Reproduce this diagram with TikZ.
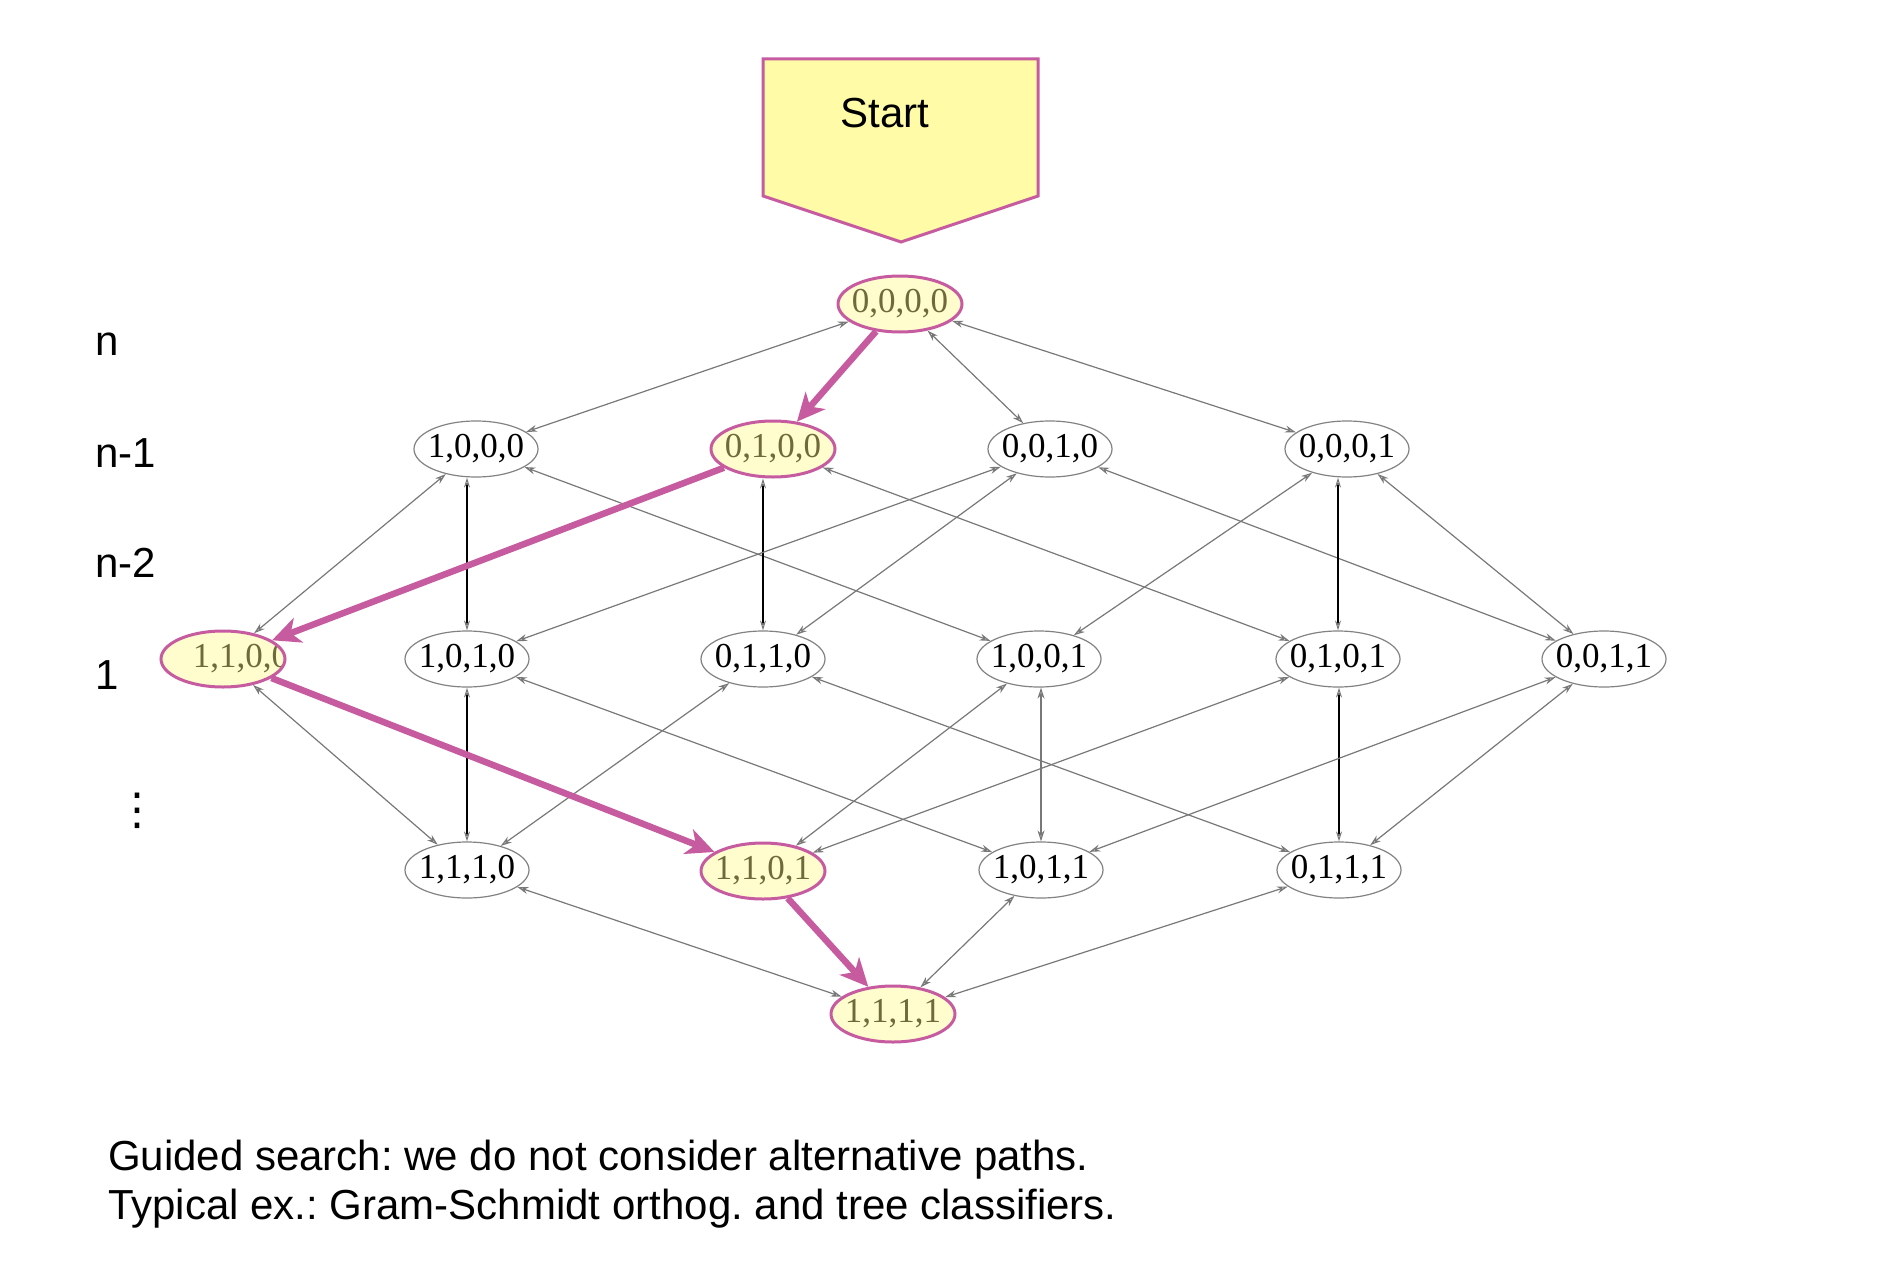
\documentclass[tikz,border=0pt]{standalone}
\usepackage{fontspec}
\setmainfont{Liberation Sans}
\newfontfamily\serifnode{Liberation Serif}
\newfontfamily\dejavu{DejaVu Sans}
\usetikzlibrary{arrows.meta,shapes.geometric}
\definecolor{mag}{RGB}{198,91,160}
\definecolor{boxyellow}{RGB}{255,251,166}
\definecolor{hlfill}{RGB}{255,252,206}
\definecolor{olivetext}{RGB}{110,106,60}
\definecolor{edgegray}{RGB}{120,120,120}
\definecolor{ellgray}{RGB}{130,130,130}
\frenchspacing
\tikzset{
  st/.style={ellipse, draw=ellgray, line width=1.2pt, minimum width=124pt, minimum height=56pt,
    inner xsep=-5pt, inner ysep=0pt, font=\serifnode\fontsize{35}{38}\selectfont, text=black},
  hl/.style={st, draw=mag, line width=3pt, fill=hlfill, text=olivetext},
  lbl/.style={anchor=base west, font=\fontsize{42}{50}\selectfont, inner sep=0pt},
  gedge/.style={draw=edgegray, line width=1.2pt,
    arrows={Stealth[open,length=11pt,width=7pt]-Stealth[open,length=11pt,width=7pt]}},
  bedge/.style={draw=black, line width=1.8pt,
    arrows={Stealth[open,length=10pt,width=6pt,color=edgegray,line width=1pt]-Stealth[open,length=10pt,width=6pt,color=edgegray,line width=1pt]}},
  medge/.style={draw=mag, line width=6.5pt, arrows={-Stealth[length=28pt,width=26pt,inset=8pt]}},
}
\begin{document}
\begin{tikzpicture}[x=1pt,y=-1pt]
\useasboundingbox (0,0) rectangle (1884,1268);
% Start box
\draw[fill=boxyellow, draw=mag, line width=3pt, line join=miter]
  (763,59) -- (1038,59) -- (1038,196) -- (901,242) -- (763,196) -- cycle;
\node[anchor=base, font=\fontsize{42}{50}\selectfont, inner sep=0pt] (start) at (885,128) {Start};
% row labels
\node[lbl] (ln) at (95,355) {n};
\node[lbl] (ln1) at (95,467) {n-1};
\node[lbl] (ln2) at (95,577) {n-2};
\node[lbl] (l1) at (95,689) {1};
\node[font=\dejavu\fontsize{44}{50}\selectfont, inner sep=0pt] (ldots) at (137,811) {⋮};
% nodes
\node[hl] (a0000) at (900,304) {0,0,0,0};
\node[st] (a1000) at (476,449) {1,0,0,0};
\node[hl] (a0100) at (773,449) {0,1,0,0};
\node[st] (a0010) at (1050,449) {0,0,1,0};
\node[st] (a0001) at (1347,449) {0,0,0,1};
\node[hl, path picture={\node[font=\serifnode\fontsize{35}{38}\selectfont, text=olivetext, inner sep=0pt]
   at ([xshift=18pt]path picture bounding box.center) {1,1,0,0};}] (a1100) at (223,659) {};
\node[st] (a1010) at (467,659) {1,0,1,0};
\node[st] (a0110) at (763,659) {0,1,1,0};
\node[st] (a1001) at (1039,659) {1,0,0,1};
\node[st] (a0101) at (1338,659) {0,1,0,1};
\node[st] (a0011) at (1604,659) {0,0,1,1};
\node[st] (a1110) at (467,870) {1,1,1,0};
\node[hl] (a1101) at (763,871) {1,1,0,1};
\node[st] (a1011) at (1041,870) {1,0,1,1};
\node[st] (a0111) at (1339,870) {0,1,1,1};
\node[hl] (a1111) at (893,1014) {1,1,1,1};
% edges level n -> n-1
\draw[gedge] (a0000) -- (a1000);
\draw[gedge] (a0000) -- (a0010);
\draw[gedge] (a0000) -- (a0001);
% n-1 -> row 1
\draw[gedge] (a1000) -- (a1100);
\draw[bedge] (a1000.south -| a1010.north) -- (a1010.north);
\draw[gedge] (a1000) -- (a1001);
\draw[bedge] (a0100.south -| a0110.north) -- (a0110.north);
\draw[gedge] (a0100) -- (a0101);
\draw[gedge] (a0010) -- (a1010);
\draw[gedge] (a0010) -- (a0110);
\draw[gedge] (a0010) -- (a0011);
\draw[gedge] (a0001) -- (a1001);
\draw[bedge] (a0001.south -| a0101.north) -- (a0101.north);
\draw[gedge] (a0001) -- (a0011);
% row 1 -> row 3
\draw[gedge] (a1100) -- (a1110);
\draw[bedge] (a1010.south -| a1110.north) -- (a1110.north);
\draw[gedge] (a1010) -- (a1011);
\draw[gedge] (a0110) -- (a1110);
\draw[gedge] (a0110) -- (a0111);
\draw[gedge] (a1001) -- (a1101);
\draw[gedge] (a1001.south -| a1011.north) -- (a1011.north);
\draw[gedge] (a0101) -- (a1101);
\draw[bedge] (a0101.south -| a0111.north) -- (a0111.north);
\draw[gedge] (a0011) -- (a1011);
\draw[gedge] (a0011) -- (a0111);
% row 3 -> bottom
\draw[gedge] (a1110) -- (a1111);
\draw[gedge] (a1011) -- (a1111);
\draw[gedge] (a0111) -- (a1111);
% guided path
\draw[medge] (a0000) -- (a0100);
\draw[medge] (a0100) -- (a1100);
\draw[medge] (a1100) -- (a1101);
\draw[medge] (a1101) -- (a1111);
% caption
\node[lbl] (cap1) at (108,1170) {Guided search: we do not consider alternative paths.};
\node[lbl] (cap2) at (108,1219) {Typical ex.: Gram-Schmidt orthog. and tree classifiers.};
\end{tikzpicture}
\end{document}
